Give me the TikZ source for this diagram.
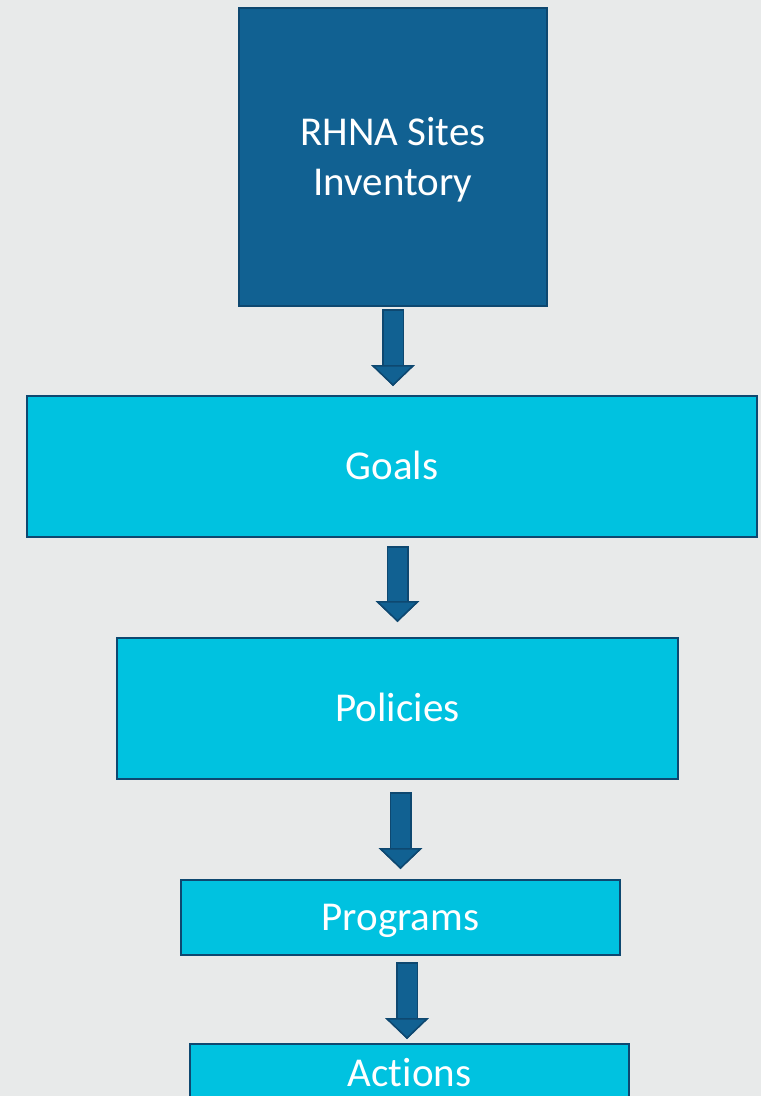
\documentclass[tikz,border=0pt]{standalone}
\usepackage{fontspec}
\setmainfont{Carlito}[Ligatures=NoCommon]
\usetikzlibrary{arrows.meta}

\definecolor{bgcolor}{RGB}{232,234,234}
\definecolor{darkfill}{RGB}{17,97,146}
\definecolor{darkline}{RGB}{14,72,112}
\definecolor{cyanfill}{RGB}{0,194,224}

\tikzset{
	boxtext/.style={draw=darkline, line width=2pt, text=white, inner sep=0pt, font=\fontsize{41}{50}\selectfont},
	sitesbox/.style={boxtext, fill=darkfill, align=center, text height=76.4pt, text depth=0pt},
	levelbox/.style={boxtext, fill=cyanfill, text height=26.4pt, text depth=0pt},
	flowline/.style={line width=22pt, darkline, -{Triangle[length=21pt,width=43.5pt,line width=1.5pt,fill=darkfill,color=darkline]}},
	flowfill/.style={line width=19pt, darkfill, -{Triangle[length=21pt,width=43.5pt,line width=1.5pt,fill=darkfill,color=darkline]}}
}

\begin{document}
\begin{tikzpicture}[x=1pt, y=-1pt]
	%background
	\clip (0,0) rectangle (761,1096);
	\fill[bgcolor] (0,0) rectangle (761,1096);
	
	%boxes
	\node[sitesbox, minimum width=308pt, minimum height=298pt] (rhna) at (393,157) {RHNA Sites\\Inventory};
	\node[levelbox, minimum width=730pt, minimum height=141pt] (goals) at (392,466.5) {Goals};
	\node[levelbox, minimum width=561pt, minimum height=141pt] (policies) at (397.5,708.5) {Policies};
	\node[levelbox, minimum width=439pt, minimum height=75pt] (programs) at (400.5,917.5) {Programs};
	\node[levelbox, minimum width=439pt, minimum height=58pt] (actions) at (409.5,1073) {Actions};
	
	%arrows - outline first, then the fill on top
	\draw[flowline, shorten <=2pt, shorten >=9pt] (rhna.south) -- (rhna.south |- goals.north);
	\draw[flowfill, shorten <=3.5pt, shorten >=9pt] (rhna.south) -- (rhna.south |- goals.north);
	%
	\draw[flowline, shorten <=8pt, shorten >=15pt] (goals.south -| policies.north) -- (policies.north);
	\draw[flowfill, shorten <=9.5pt, shorten >=15pt] (goals.south -| policies.north) -- (policies.north);
	%
	\draw[flowline, shorten <=12pt, shorten >=10pt] (policies.south -| programs.north) -- (programs.north);
	\draw[flowfill, shorten <=13.5pt, shorten >=10pt] (policies.south -| programs.north) -- (programs.north);
	%
	\draw[flowline, shorten <=6pt, shorten >=4pt] ([xshift=-2.5pt]programs.south -| actions.north) -- ([xshift=-2.5pt]actions.north);
	\draw[flowfill, shorten <=7.5pt, shorten >=4pt] ([xshift=-2.5pt]programs.south -| actions.north) -- ([xshift=-2.5pt]actions.north);
\end{tikzpicture}
\end{document}
